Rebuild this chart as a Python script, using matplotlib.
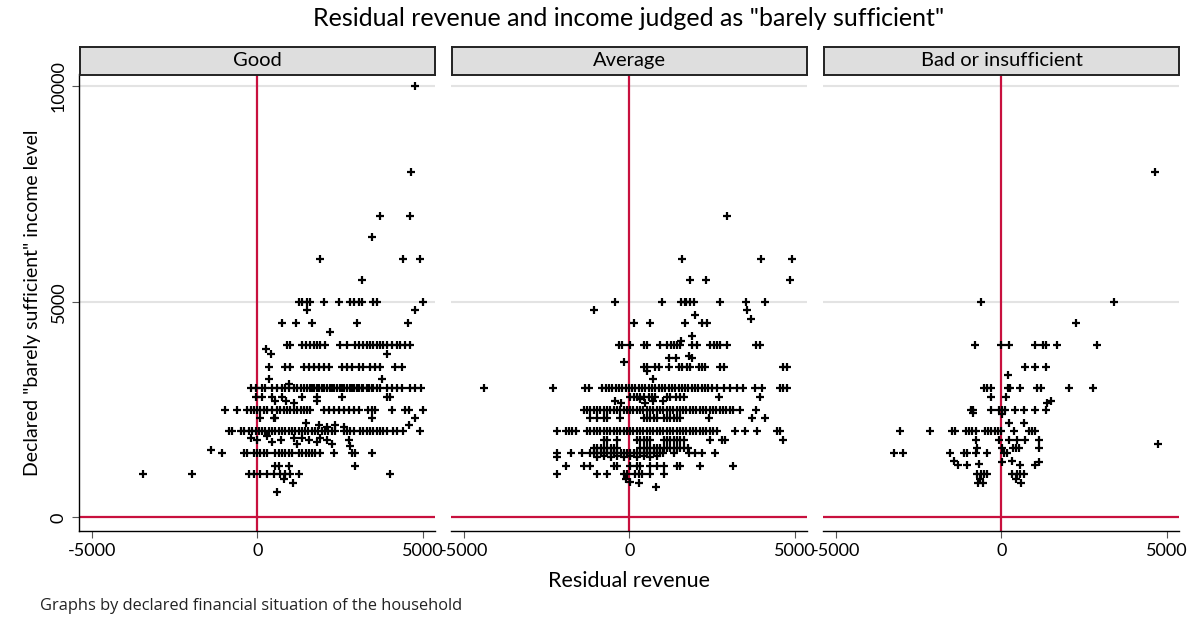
import matplotlib
matplotlib.use('Agg')
import matplotlib.pyplot as plt
import numpy as np

plt.rcParams['font.family'] = ['Lato', 'DejaVu Sans']
plt.rcParams['axes.unicode_minus'] = False

title = 'Residual revenue and income judged as "barely sufficient"'
panels = ['Good', 'Average', 'Bad or insufficient']
xlabel = 'Residual revenue'
ylabel = 'Declared "barely sufficient" income level'
note = 'Graphs by declared financial situation of the household'
xticks = [-5000, 0, 5000]
yticks = [0, 5000, 10000]

# ---- panel "Good": rows of points at common income levels + loose points
good_rows_y = [1000, 1500, 2000, 2500, 3000, 3500, 4000, 5000]
good_rows_x = [
    [-3470, -1970, -260, -110, 90, 290, 490, 690, 840, 990, 1250, 4000],
    [-1060, -410, -310, -110, -10, 90, 190, 290, 540, 640, 740, 840, 940, 1040, 1250, 1350,
     1450, 1550, 1650, 1750, 1900, 2300, 2850, 2950, 3450],
    [-860, -760, -510, -410, -260, -160, -60, 40, 140, 240, 340, 440, 540, 640, 740, 840, 940,
     1040, 1140, 1240, 1340, 1440, 1540, 1640, 1740, 1840, 1940, 2040, 2140, 2240, 2340, 2600,
     2700, 2800, 2900, 3100, 3200, 3300, 3400, 3500, 3600, 3700, 3800, 3900, 4100, 4200, 4400, 4900],
    [-990, -610, -310, -210, -110, -10, 90, 190, 290, 440, 590, 690, 790, 890, 990, 1100, 1200,
     1300, 1400, 1500, 1600, 2000, 2150, 2300, 2450, 2600, 2750, 2900, 3050, 3350, 3450, 3550,
     4050, 4450, 4560, 5000],
    [-210, -60, 140, 240, 440, 590, 740, 840, 940, 1090, 1200, 1300, 1400, 1500, 1580, 1650,
     1700, 1800, 1870, 1950, 2000, 2100, 2180, 2250, 2300, 2400, 2480, 2550, 2600, 2700, 2780,
     2850, 2900, 3000, 3080, 3150, 3200, 3300, 3380, 3450, 3500, 3600, 3700, 3900, 4050, 4200,
     4350, 4600, 4750, 4950],
    [340, 840, 990, 1400, 1550, 1700, 1850, 2000, 2150, 2550, 2700, 2850, 3050, 3200, 3400,
     3550, 3700, 4150, 4350],
    [890, 990, 1350, 1450, 1600, 1700, 1800, 1900, 2050, 2500, 2700, 2950, 3050, 3200, 3300,
     3400, 3500, 3600, 3700, 3800, 3900, 4050, 4200, 4300, 4450, 4600],
    [1250, 1350, 1500, 1600, 2000, 2450, 2800, 2900, 3050, 3150, 3500, 3600, 5000],
]
good_x_other = [4750, 4650, 3700, 4600, 3450, 1900, 4400, 4900, 3150, 1500, 4760, 750, 1150,
                1650, 3000, 4550, 2200, 250, 400, 3900, 340, 3750, 940, -60, 140, 440, 740,
                1350, 1800, 2550, 3900, 4000, 540, 850, 1800, 1100, 90, 490, 540, 3450, 4760,
                1850, 2100, 2350, 2600, 4560, 1450, -200, 0, 300, 450, 700, 1100, 1200, 1350,
                1550, 1800, 1900, 2100, 2250, 2750, 2800, -1415, 540, 640, 940, 2950, 600,
                1060, 800]
good_y_other = [10000, 8000, 7000, 7000, 6500, 6000, 6000, 6000, 5500, 4800, 4800, 4500, 4500,
                4500, 4500, 4500, 4300, 3900, 3800, 3800, 3200, 3200, 3100, 2800, 2800, 2800,
                2800, 2800, 2800, 2800, 2800, 2800, 2700, 2700, 2700, 2650, 2300, 2300, 2300,
                2300, 2300, 2150, 2100, 2150, 2100, 2150, 2200, 1850, 1800, 1900, 1750, 1800,
                1850, 1700, 1850, 1800, 1750, 1850, 1800, 1700, 1800, 1650, 1570, 1200, 1200,
                1200, 1200, 600, 800, 900]

# ---- panel "Average"
avg_rows_y = [1000, 1200, 1500, 1600, 1800, 2000, 2300, 2500, 2800, 3000, 3500, 4000, 4500, 5000]
avg_rows_x = [
    [-2200, -970, -670, -170, -70, 180, 280, 380, 630, 1030],
    [-1930, -1380, -1180, -470, -370, 30, 230, 330, 630, 830, 1030, 1440, 1540, 2140, 3120],
    [-2180, -1780, -1430, -1180, -1080, -970, -870, -770, -670, -570, -470, -370, -270, -170,
     -70, 30, 130, 230, 330, 430, 530, 630, 730, 830, 930, 1020, 1340, 1790, 1990, 2190, 2590],
    [-1070, -970, -870, -770, -670, -570, -470, -370, 330, 430, 530, 630, 730, 830, 930, 1030,
     1130, 1230, 1330, 1430, 1530, 1640, 1780],
    [-770, -670, -370, 230, 330, 430, 530, 630, 1030, 1130, 1230, 1330, 1430, 1530, 1640, 2440,
     2790, 2890, 4650],
    [-2180, -1930, -1830, -1730, -1630, -1280, -1180, -1080, -980, -880, -780, -680, -580, -480,
     -380, -280, -180, -80, 20, 120, 220, 320, 420, 520, 620, 720, 820, 920, 1020, 1120, 1220,
     1320, 1420, 1520, 1620, 1720, 1820, 1920, 2020, 2120, 2220, 2320, 2420, 2520, 2640, 3190,
     3490, 3850, 4450, 4550],
    [-1180, -980, -780, -680, -280, 430, 530, 630, 730, 830, 1030, 1130, 1230, 1330, 1430, 1530,
     2390, 3690, 4100],
    [-1380, -1280, -1180, -1080, -980, -880, -780, -680, -580, -480, -380, -280, -180, -80, 20,
     120, 220, 320, 420, 520, 620, 720, 820, 920, 1020, 1120, 1220, 1320, 1420, 1520, 1620, 1720,
     1820, 1920, 2020, 2120, 2220, 2320, 2420, 2520, 2620, 2720, 2820, 2920, 3020, 3120, 3340,
     3830],
    [30, 130, 230, 330, 430, 580, 680, 780, 1130, 1230, 1390, 1540, 1640, 2690, 3950],
    [-4390, -2300, -1330, -1230, -820, -720, -620, -520, -420, -320, -220, -120, -20, 80, 180,
     280, 380, 480, 580, 680, 780, 880, 980, 1080, 1180, 1280, 1380, 1480, 1580, 1680, 1780,
     1880, 1980, 2080, 2180, 2280, 2380, 2480, 2640, 2840, 3040, 3240, 3440, 3800, 4000, 4550,
     4650, 4750],
    [430, 530, 780, 880, 1190, 1490, 1590, 1740, 1840, 2090, 2190, 2290, 2740, 2840, 4650, 4750],
    [-320, -220, 30, 430, 530, 930, 1130, 1240, 1340, 1440, 1540, 1890, 2040, 2440, 2540, 2640,
     2740, 2940, 3830, 3930],
    [130, 630, 1690, 2190, 2340],
    [-440, 980, 1570, 1670, 1720, 1820, 1940, 2720, 3520, 4100],
]
avg_x_other = [2950, 1600, 3970, 4920, 1820, 2300, 4850, -1080, 3540, 1970, 3680, 1890, 1570,
               1790, 1890, 1190, 1390, -170, 530, 700, -440, -270, 330, 480, 700, 1000, -2180,
               -970, -770, -570, -370, -170, 30, 230, 430, 630, 830, 30, 810, -100, 300]
avg_y_other = [7000, 6000, 6000, 6000, 5500, 5500, 5500, 4800, 4800, 4700, 4600, 4200, 4100,
               3750, 3700, 3700, 3700, 3600, 3400, 3200, 2700, 2650, 2750, 2650, 2700, 2700,
               1400, 1400, 1420, 1400, 1430, 1400, 1420, 1400, 1420, 1400, 1430, 830, 700, 900,
               800]

# ---- panel "Bad or insufficient"
bad_rows_y = [1000, 1500, 1600, 1800, 2000, 2500, 3000, 3500, 4000]
bad_rows_x = [
    [-730, -630, -530, -430, 320, 470, 570, 670],
    [-3240, -2960, -1560, -1140, -1030, -780, -450, 70, 170],
    [-730, 10, 340, 440, 540, 1120],
    [-760, -80, 220, 470, 720, 1120],
    [-3070, -2160, -1490, -1390, -1080, -980, -880, -780, -510, -410, -310, -210, -110, -10,
     370, 820, 920, 1020],
    [-930, -850, -330, -80, 20, 120, 420, 690, 1020, 1350],
    [-530, -430, -330, 200, 270, 570, 1070, 1180, 2030, 2760],
    [720, 1020, 1350],
    [-800, -30, 240, 1000, 1250, 1340, 1680, 2880],
]
bad_x_other = [4650, -630, 3410, 2260, 200, -330, 140, 1480, 1380, -850, 20, 220, 670, 4740,
               -1440, -1310, -1030, -680, 20, 320, 570, 1020, 1120, -700, -550, -650, 450, 600]
bad_y_other = [8000, 5000, 5000, 4500, 3300, 2800, 2800, 2700, 2650, 2420, 2400, 2200, 2200,
               1700, 1320, 1210, 1210, 1250, 1280, 1320, 1210, 1210, 1290, 800, 800, 900, 900,
               800]


def collect(rows_y, rows_x, x_other, y_other):
    xs, ys = [], []
    for yv, row in zip(rows_y, rows_x):
        xs += row
        ys += [yv] * len(row)
    return np.array(xs + x_other), np.array(ys + y_other)


data = [collect(good_rows_y, good_rows_x, good_x_other, good_y_other),
        collect(avg_rows_y, avg_rows_x, avg_x_other, avg_y_other),
        collect(bad_rows_y, bad_rows_x, bad_x_other, bad_y_other)]

W, H = 1199, 619
fig = plt.figure(figsize=(W / 100, H / 100), dpi=100)
red = '#c8103e'

lefts = [79, 451, 823]
pw = 356
ax_top, ax_bot = 74.5, 530.5
strip_top = 47

for i, (name, (x, y)) in enumerate(zip(panels, data)):
    l = lefts[i]
    ax = fig.add_axes([l / W, (H - ax_bot) / H, pw / W, (ax_bot - ax_top) / H])
    for g in [5000, 10000]:
        ax.axhline(g, color='#e3e3e3', lw=1.5, zorder=0)
    ax.axhline(0, color=red, lw=1.6, zorder=1)
    ax.axvline(0, color=red, lw=1.6, zorder=1)
    ax.plot(x, y, '+', color='black', ms=5.5, mew=1.6, zorder=3)
    ax.set_xlim(-5390, 5360)
    ax.set_ylim(-302, 10271)
    ax.spines['top'].set_visible(False)
    ax.spines['right'].set_visible(False)
    ax.spines['bottom'].set_linewidth(1.0)
    ax.set_xticks(xticks)
    ax.tick_params(axis='x', length=5, width=0.8, color='#555555', labelsize=13, pad=4)
    if i == 0:
        ax.set_yticks(yticks)
        ax.set_yticklabels([str(v) for v in yticks], rotation=90, va='center')
        ax.tick_params(axis='y', length=5, width=0.8, color='#555555', labelsize=13, pad=4)
        ax.spines['left'].set_linewidth(1.0)
        ax.set_ylabel(ylabel, fontsize=14, labelpad=7)
    else:
        ax.spines['left'].set_visible(False)
        ax.set_yticks([])

    sax = fig.add_axes([(l + 1) / W, (H - ax_top) / H, (pw - 1) / W, (ax_top - strip_top) / H])
    sax.set_facecolor('#dedede')
    sax.set_xticks([])
    sax.set_yticks([])
    for s in sax.spines.values():
        s.set_linewidth(1.4)
        s.set_color('#222222')
    sax.text(0.5, 0.5, name, ha='center', va='center', fontsize=14.5, transform=sax.transAxes)

fig.text(629 / W, 1 - 18 / H, title, ha='center', va='center', fontsize=18)
fig.text(629 / W, 1 - 581 / H, xlabel, ha='center', va='center', fontsize=15.5)
fig.text(40 / W, 1 - 606 / H, note, ha='left', va='center', fontsize=11.8, color='#222222',
         family=['Open Sans', 'DejaVu Sans'])

fig.savefig('out.png', dpi=100, facecolor='white')
